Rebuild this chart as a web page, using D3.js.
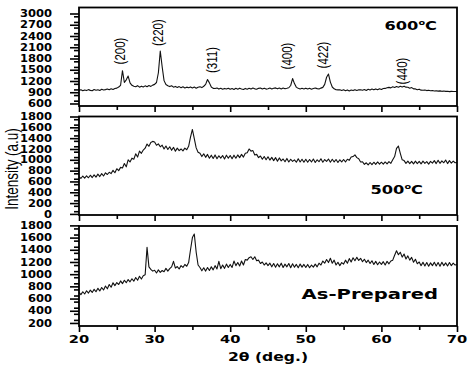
<!DOCTYPE html>
<html><head><meta charset="utf-8">
<script src="https://cdn.jsdelivr.net/npm/d3@7"></script>
<style>body{margin:0;background:#fff}svg{display:block}</style>
</head><body><svg id="c" width="474" height="365"></svg>
<script>
// ---- data ----
const thetaStart = 20, thetaStep = 0.25;   // 2θ grid: 20.00, 20.25 ... 70.00
const xTicks = [20, 30, 40, 50, 60, 70];
const xMinor = [25, 35, 45, 55, 65];

const i600 = [
 950, 966, 938, 960, 944, 970, 950, 940, 974, 955, 966, 946, 978, 958, 970, 985, 966, 992, 972, 998,
 1010, 1040, 1085, 1475, 1160, 1230, 1330, 1150, 1085, 1058, 1045, 1075, 1036, 1062, 1040, 1070, 1048, 1078, 1056, 1090,
 1110, 1160, 1420, 2000, 1580, 1210, 1105, 1075, 1050, 1072, 1036, 1056, 1026, 1050, 1020, 1044, 1014, 1036, 1018, 1042,
 1016, 1040, 1008, 1034, 1045, 1024, 1060, 1110, 1240, 1150, 1040, 1004, 1000, 1012, 984, 1006, 980, 1002, 986, 1008,
 978, 999, 974, 1004, 982, 1009, 986, 972, 1002, 981, 1006, 984, 1012, 990, 978, 1004, 1014, 988, 1009, 984,
 992, 1012, 986, 1008, 1016, 991, 1012, 988, 1014, 994, 1006, 1020, 1080, 1265, 1130, 1030, 1004, 985, 1004, 988,
 1009, 986, 1006, 982, 1002, 1014, 996, 988, 1010, 1030, 1110, 1300, 1385, 1170, 1040, 992, 966, 962, 968, 946,
 966, 941, 962, 936, 959, 944, 969, 946, 964, 968, 954, 972, 948, 979, 958, 984, 964, 989, 968, 994,
 974, 999, 1002, 1019, 1030, 1016, 1044, 1028, 1054, 1034, 1059, 1041, 1062, 1036, 1034, 1008, 1024, 991, 989, 966,
 982, 956, 952, 958, 944, 951, 939, 946, 934, 941, 929, 936, 924, 931, 922, 926, 916, 924, 919, 918,
 918];

const i500 = [
 690, 655, 700, 660, 705, 668, 715, 672, 722, 680, 735, 690, 745, 700, 760, 728, 770, 745, 805, 760,
 835, 800, 860, 850, 930, 870, 1000, 960, 1030, 1010, 1110, 1050, 1160, 1120, 1180, 1215, 1290, 1250, 1320, 1340,
 1330, 1270, 1295, 1240, 1270, 1200, 1255, 1190, 1240, 1175, 1230, 1160, 1215, 1170, 1200, 1165, 1215, 1185, 1250, 1420,
 1560, 1390, 1220, 1140, 1120, 1060, 1110, 1045, 1100, 1030, 1085, 1025, 1090, 1020, 1075, 1030, 1080, 1015, 1085, 1030,
 1080, 1020, 1085, 1030, 1090, 1040, 1100, 1050, 1120, 1130, 1200, 1160, 1170, 1090, 1100, 1040, 1070, 1010, 1060, 1000,
 1055, 995, 1045, 985, 1040, 975, 1035, 980, 1015, 965, 1025, 960, 1010, 970, 1000, 955, 1020, 960, 1010, 955,
 1010, 955, 1005, 960, 1015, 950, 1000, 965, 1020, 955, 1005, 970, 1015, 955, 1010, 960, 1005, 950, 1000, 960,
 1005, 960, 1010, 990, 1050, 1060, 1090, 1040, 1020, 960, 965, 915, 945, 905, 950, 910, 955, 915, 960, 920,
 955, 920, 960, 925, 965, 935, 1000, 1060, 1210, 1254, 1120, 1000, 985, 935, 975, 930, 970, 925, 975, 930,
 970, 925, 975, 935, 965, 920, 970, 940, 985, 930, 990, 935, 980, 945, 995, 930, 985, 940, 975, 945,
 950];

const iAsPrepared = [
 700, 665, 712, 675, 728, 690, 738, 700, 752, 712, 768, 725, 782, 740, 805, 760, 830, 785, 858, 812,
 862, 830, 890, 845, 900, 860, 912, 875, 925, 885, 945, 900, 965, 920, 975, 990, 1440, 1120, 1080, 1050,
 1065, 1020, 1070, 1030, 1060, 1040, 1095, 1050, 1090, 1120, 1210, 1100, 1125, 1085, 1140, 1110, 1160, 1130, 1190, 1400,
 1600, 1658, 1360, 1150, 1110, 1055, 1105, 1050, 1110, 1060, 1120, 1070, 1140, 1085, 1210, 1090, 1150, 1095, 1165, 1110,
 1160, 1110, 1215, 1140, 1190, 1135, 1215, 1150, 1240, 1230, 1270, 1286, 1240, 1285, 1220, 1230, 1175, 1200, 1150, 1185,
 1140, 1180, 1120, 1175, 1115, 1170, 1120, 1180, 1110, 1165, 1120, 1175, 1105, 1170, 1115, 1160, 1105, 1165, 1115, 1160,
 1110, 1160, 1105, 1150, 1115, 1165, 1120, 1180, 1150, 1215, 1180, 1240, 1190, 1260, 1180, 1230, 1150, 1195, 1140, 1190,
 1165, 1230, 1180, 1255, 1200, 1270, 1220, 1276, 1225, 1260, 1205, 1245, 1190, 1230, 1175, 1220, 1160, 1210, 1155, 1200,
 1160, 1205, 1150, 1210, 1170, 1215, 1230, 1310, 1384, 1320, 1360, 1280, 1330, 1250, 1300, 1230, 1275, 1195, 1245, 1170,
 1200, 1140, 1195, 1135, 1190, 1130, 1185, 1140, 1195, 1135, 1190, 1130, 1195, 1140, 1185, 1135, 1190, 1140, 1180, 1150,
 1160];

const yTicks600 = [600, 900, 1200, 1500, 1800, 2100, 2400, 2700, 3000];
const yTicks500 = [0, 200, 400, 600, 800, 1000, 1200, 1400, 1600, 1800];
const yTicksAsPrepared = [200, 400, 600, 800, 1000, 1200, 1400, 1600, 1800];

const peakLabels = ["(200)", "(220)", "(311)", "(400)", "(422)", "(440)"];
const peakLabelTheta = [25.4, 30.4, 37.5, 47.5, 52.3, 62.7];
const peakLabelIntensity = [2000, 2490, 1760, 1867, 1893, 1467];

const panelTitles = ["600", "500", "As-Prepared"];

// ---- layout ----
const svg = d3.select("#c");
const x = d3.scaleLinear().domain([20, 70]).range([79, 457]);
const theta = i => thetaStart + i * thetaStep;

const panels = [
  {data: i600, ticks: yTicks600, minorStep: 150, y: d3.scaleLinear().domain([533, 3160]).range([106, 7.5])},
  {data: i500, ticks: yTicks500, minorStep: 100, y: d3.scaleLinear().domain([-20, 1800]).range([215, 116.5])},
  {data: iAsPrepared, ticks: yTicksAsPrepared, minorStep: 100, y: d3.scaleLinear().domain([150, 1790]).range([326, 226])}
];

const tickFont = "'DejaVu Sans', sans-serif";

panels.forEach((p, pi) => {
  const y = p.y;
  const [yb, yt] = y.range();
  const g = svg.append("g");
  const lo = d3.min(p.ticks), hi = d3.max(p.ticks);
  const minors = d3.range(lo + p.minorStep / 2, hi, p.minorStep).filter(v => !p.ticks.includes(v));
  const yAxisMinor = d3.axisLeft(y).tickValues(minors).tickSize(5).tickFormat("");
  const yAxisMajor = d3.axisLeft(y).tickValues(p.ticks).tickSize(9).tickFormat("");
  const gy1 = g.append("g").attr("transform", `translate(${x(20)},0)`).call(yAxisMinor);
  const gy2 = g.append("g").attr("transform", `translate(${x(20)},0)`).call(yAxisMajor);
  [gy1, gy2].forEach(a => { a.select(".domain").remove(); a.selectAll("line").attr("stroke", "#000").attr("stroke-width", 1.6); });
  const xa1 = g.append("g").attr("transform", `translate(0,${yb})`).call(d3.axisBottom(x).tickValues(xMinor).tickSize(4).tickFormat(""));
  const xa2 = g.append("g").attr("transform", `translate(0,${yb})`).call(d3.axisBottom(x).tickValues(xTicks).tickSize(6).tickFormat(""));
  [xa1, xa2].forEach(a => { a.select(".domain").remove(); a.selectAll("line").attr("stroke", "#000").attr("stroke-width", 1.6); });

  g.selectAll("text.yl").data(p.ticks).join("text")
    .attr("class", "yl")
    .attr("transform", d => `translate(52,${y(d)}) scale(1.15,1)`)
    .attr("text-anchor", "end").attr("dy", "0.36em")
    .attr("font-family", tickFont).attr("font-weight", "bold").attr("font-size", 10)
    .text(d => d);

  const line = d3.line().x((d, i) => x(theta(i))).y(d => y(d));
  g.append("path").datum(p.data).attr("d", line)
    .attr("fill", "none").attr("stroke", "#111").attr("stroke-width", 1.1).attr("stroke-linejoin", "round");

  g.append("rect").attr("x", x(20)).attr("y", yt).attr("width", x(70) - x(20)).attr("height", yb - yt)
    .attr("fill", "none").attr("stroke", "#000").attr("stroke-width", 1.8);
});

const yBottom = panels[2].y.range()[0];
svg.selectAll("text.xl").data(xTicks).join("text")
  .attr("class", "xl")
  .attr("transform", d => `translate(${x(d)},${yBottom + 17}) scale(1.4,1)`)
  .attr("text-anchor", "middle")
  .attr("font-family", tickFont).attr("font-weight", "bold").attr("font-size", 10.5)
  .text(d => d);

svg.append("text")
  .attr("transform", `translate(268,361) scale(1.3,1)`)
  .attr("text-anchor", "middle")
  .attr("font-family", tickFont).attr("font-weight", "bold").attr("font-size", 12)
  .text("2θ (deg.)");

svg.append("text")
  .attr("transform", `translate(12,169) rotate(-90) scale(1,1.35)`)
  .attr("text-anchor", "middle").attr("dy", "0.35em")
  .attr("font-family", "'Liberation Sans', Arial, sans-serif").attr("font-size", 13.5)
  .text("Intensity (a.u)");

const y600 = panels[0].y;
peakLabels.forEach((lab, i) => {
  svg.append("text")
    .attr("transform", `translate(${x(peakLabelTheta[i])},${y600(peakLabelIntensity[i])}) rotate(-90) scale(1,1.3)`)
    .attr("text-anchor", "middle").attr("dy", "0.35em")
    .attr("font-family", "'Liberation Sans', Arial, sans-serif").attr("font-size", 11.5)
    .text(lab);
});

function tempTitle(tx, ty, num) {
  const t = svg.append("text")
    .attr("transform", `translate(${tx},${ty}) scale(1.3,1)`)
    .attr("text-anchor", "end")
    .attr("font-family", tickFont).attr("font-weight", "bold").attr("font-size", 12.5);
  t.append("tspan").text(num);
  t.append("tspan").attr("font-size", 7.5).attr("dy", -5.5).text("o");
  t.append("tspan").attr("dy", 5.5).text("C");
}
tempTitle(437, 30, panelTitles[0]);
tempTitle(423, 194, panelTitles[1]);
svg.append("text")
  .attr("transform", `translate(438,299) scale(1.43,1)`)
  .attr("text-anchor", "end")
  .attr("font-family", tickFont).attr("font-weight", "bold").attr("font-size", 13.7)
  .text(panelTitles[2]);
</script>
</body></html>
